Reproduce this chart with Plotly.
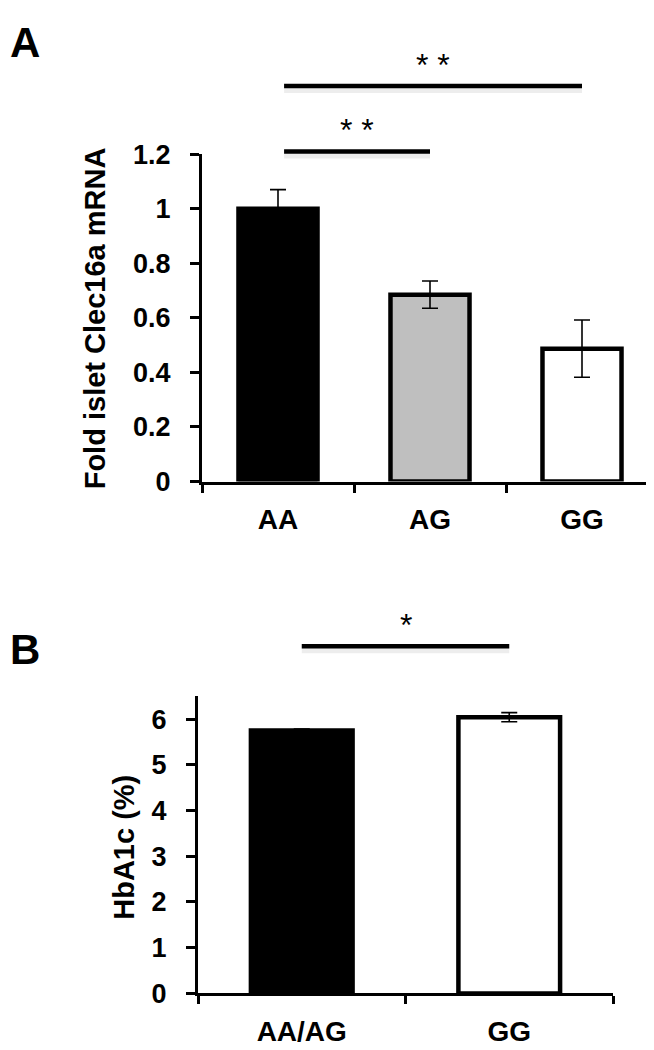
import plotly.graph_objects as go

# ---------------- data ----------------
# Panel A: islet Clec16a mRNA by genotype
genotypes_a = ["AA", "AG", "GG"]
mrna_fold = [1.00, 0.685, 0.487]
mrna_err = [0.07, 0.05, 0.105]
colors_a = ["#000000", "#bfbfbf", "#ffffff"]
yticks_a = [0, 0.2, 0.4, 0.6, 0.8, 1.0, 1.2]
ymax_a = 1.2

# Panel B: HbA1c by genotype
genotypes_b = ["AA/AG", "GG"]
hba1c = [5.75, 6.04]
hba1c_err = [0.03, 0.10]
colors_b = ["#000000", "#ffffff"]
yticks_b = [0, 1, 2, 3, 4, 5, 6]
ymax_b = 6.5

# significance brackets: (from index, to index, label, height in data units)
sig_a = [(0, 1, "* *", 1.21), (0, 2, "* *", 1.45)]
sig_b = [(0, 1, "*", 7.59)]

FONT = "Liberation Sans, Arial, sans-serif"
W, H = 654, 1050

fig = go.Figure()

fig.add_trace(go.Bar(
    x=genotypes_a, y=mrna_fold, width=0.52,
    marker=dict(color=colors_a, line=dict(color="black", width=4.5)),
    error_y=dict(type="data", array=mrna_err, color="black", thickness=1.6, width=8),
    xaxis="x", yaxis="y", showlegend=False,
))
fig.add_trace(go.Bar(
    x=genotypes_b, y=hba1c, width=0.49,
    marker=dict(color=colors_b, line=dict(color="black", width=4.5)),
    error_y=dict(type="data", array=hba1c_err, color="black", thickness=1.6, width=8),
    xaxis="x2", yaxis="y2", showlegend=False,
))

def xax(domain, n, anchor):
    return dict(
        domain=domain, anchor=anchor, range=[-0.5, n - 0.5],
        showline=True, linewidth=3, linecolor="black",
        ticks="outside", tickson="boundaries", ticklen=8, tickwidth=3, tickcolor="black",
        tickfont=dict(family=FONT, size=28, color="black", weight="bold"),
        ticklabelstandoff=11,
        showgrid=False, zeroline=False, fixedrange=True,
    )

def yax(domain, rng, tv, anchor):
    return dict(
        domain=domain, anchor=anchor, range=rng, tickvals=tv,
        showline=True, linewidth=3, linecolor="black",
        ticks="outside", ticklen=9, tickwidth=3, tickcolor="black",
        tickfont=dict(family=FONT, size=27, color="black", weight="bold"),
        ticklabelstandoff=14,
        showgrid=False, zeroline=False, fixedrange=True,
    )

shapes = []
annotations = []

def add_sig(sigs, n, xref, yref, ymax, x_off):
    for i, j, lab, lev in sigs:
        x0 = (i + x_off + 0.5) / n
        x1 = (j + 0.5) / n
        yd = lev / ymax
        # soft shadow under the bracket
        shapes.append(dict(type="line", xref=xref, yref=yref, x0=x0, x1=x1,
                           ysizemode="pixel", yanchor=yd, y0=-4, y1=-4,
                           line=dict(color="rgba(0,0,0,0.07)", width=6)))
        shapes.append(dict(type="line", xref=xref, yref=yref, x0=x0, x1=x1,
                           y0=yd, y1=yd, line=dict(color="black", width=4.5)))
        annotations.append(dict(text=lab, xref=xref, yref=yref, x=(x0 + x1) / 2, y=yd,
                                xanchor="center", yanchor="bottom", yshift=1, showarrow=False,
                                font=dict(family=FONT, size=32, color="black")))

add_sig(sig_a, len(genotypes_a), "x domain", "y domain", ymax_a, 0.04)
add_sig(sig_b, len(genotypes_b), "x2 domain", "y2 domain", ymax_b, 0.0)

# panel letters
annotations.append(dict(text="A", xref="paper", yref="paper", x=0, y=1 + 6 / H, xanchor="left", yanchor="top",
                        showarrow=False, font=dict(family=FONT, size=42, color="black", weight="bold")))
annotations.append(dict(text="B", xref="paper", yref="paper", x=0, y=1 - 619 / H, xanchor="left", yanchor="top",
                        showarrow=False, font=dict(family=FONT, size=42, color="black", weight="bold")))

# y-axis titles
annotations.append(dict(text="Fold islet Clec16a mRNA", xref="paper", yref="paper",
                        x=87 / W, y=1 - 304 / H, xanchor="center", yanchor="middle", textangle=-90,
                        showarrow=False, font=dict(family=FONT, size=29, color="black", weight="bold")))
annotations.append(dict(text="HbA1c (%)", xref="paper", yref="paper",
                        x=116 / W, y=1 - 849 / H, xanchor="center", yanchor="middle", textangle=-90,
                        showarrow=False, font=dict(family=FONT, size=29, color="black", weight="bold")))

fig.update_layout(
    width=W, height=H, margin=dict(l=0, r=0, t=0, b=0),
    paper_bgcolor="white", plot_bgcolor="white", showlegend=False,
    xaxis=xax([194 / W, 650 / W], len(genotypes_a), "y"),
    yaxis=yax([1 - 472 / H, 1 - 135 / H], [0, ymax_a], yticks_a, "x"),
    xaxis2=xax([190 / W, 605 / W], len(genotypes_b), "y2"),
    yaxis2=yax([1 - 999 / H, 1 - 693 / H], [0, ymax_b], yticks_b, "x2"),
    shapes=shapes, annotations=annotations,
)

fig.write_html("out.html")
